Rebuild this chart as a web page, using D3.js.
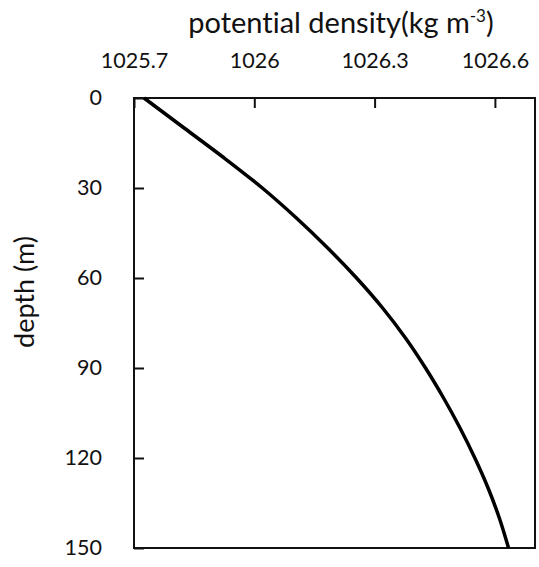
<!DOCTYPE html>
<html>
<head>
<meta charset="utf-8">
<script src="https://cdn.jsdelivr.net/npm/d3@7"></script>
<style>
  html, body { margin: 0; padding: 0; background: #fff; }
  svg { display: block; }
  text { font-family: Lato, "Open Sans", sans-serif; fill: #111; font-variant-ligatures: none; }
</style>
</head>
<body>
<svg id="chart" width="539" height="567"></svg>
<script>
// Potential density profile vs depth
const depths = [0, 10, 20, 30, 40, 50, 60, 70, 80, 90, 100, 110, 120, 130, 140, 150];
const density = [1025.725, 1025.825, 1025.925, 1026.020, 1026.105, 1026.183, 1026.255, 1026.320,
                 1026.377, 1026.427, 1026.472, 1026.513, 1026.550, 1026.583, 1026.611, 1026.634];
const densityTicks = [1025.7, 1026, 1026.3, 1026.6];
const depthTicks = [0, 30, 60, 90, 120, 150];

const svg = d3.select("#chart");
const plotLeft = 134, plotRight = 535, plotTop = 98, plotBottom = 548;

const x = d3.scaleLinear().domain([1025.7, 1026.7]).range([plotLeft, plotRight]);
const y = d3.scaleLinear().domain([0, 150]).range([plotTop, plotBottom]);

// top axis, ticks pointing into the plot
const xAxis = svg.append("g")
  .attr("transform", `translate(0,${plotTop})`)
  .call(d3.axisTop(x).tickValues(densityTicks).tickFormat(d => String(d))
        .tickSizeInner(-10).tickSizeOuter(0).tickPadding(30));
xAxis.select(".domain").remove();
xAxis.selectAll("line").attr("stroke", "#111").attr("stroke-width", 2);
xAxis.selectAll("text").style("font-size", "21.5px").attr("fill", "#111");

// left axis, ticks pointing into the plot
const yAxis = svg.append("g")
  .attr("transform", `translate(${plotLeft},0)`)
  .call(d3.axisLeft(y).tickValues(depthTicks).tickFormat(d => String(d))
        .tickSizeInner(-10).tickSizeOuter(0).tickPadding(32));
yAxis.select(".domain").remove();
yAxis.selectAll("line").attr("stroke", "#111").attr("stroke-width", 2);
yAxis.selectAll("text").style("font-size", "21.5px").attr("fill", "#111");

// plot frame
svg.append("rect")
  .attr("x", plotLeft).attr("y", plotTop)
  .attr("width", plotRight - plotLeft).attr("height", plotBottom - plotTop)
  .attr("fill", "none").attr("stroke", "#111").attr("stroke-width", 2);

// profile curve
const line = d3.line()
  .x((d, i) => x(density[i]))
  .y(d => y(d))
  .curve(d3.curveMonotoneY);
svg.append("path")
  .datum(depths)
  .attr("d", line)
  .attr("fill", "none")
  .attr("stroke", "#000")
  .attr("stroke-width", 3.5)
  .attr("stroke-linecap", "butt");

// axis titles
const title = svg.append("text")
  .attr("x", 341).attr("y", 33)
  .attr("text-anchor", "middle")
  .style("font-size", "29px");
title.append("tspan").text("potential density");
title.append("tspan").text("(kg m");
title.append("tspan").attr("dy", -11).style("font-size", "17px").text("-3");
title.append("tspan").attr("dy", 11).text(")");

svg.append("text")
  .attr("transform", "translate(34,292) rotate(-90)")
  .attr("text-anchor", "middle")
  .style("font-size", "27px")
  .text("depth (m)");
</script>
</body>
</html>
